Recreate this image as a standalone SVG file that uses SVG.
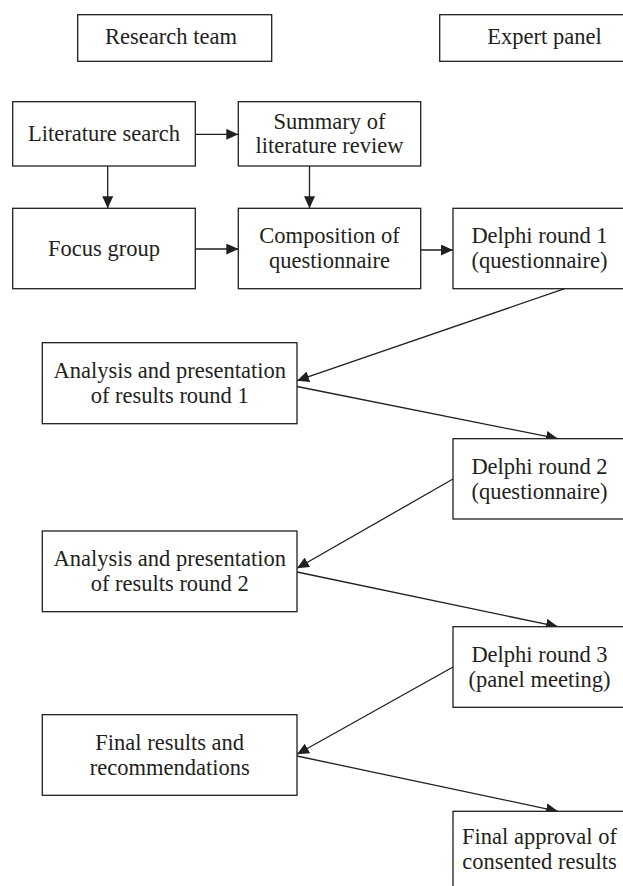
<svg xmlns="http://www.w3.org/2000/svg" width="623" height="886" viewBox="0 0 623 886">
<style>
.box{fill:#fff;stroke:#231f20;stroke-width:1.3}
.t{font-family:"Liberation Serif","Times New Roman",serif;font-size:22.5px;fill:#231f20;text-anchor:middle}
.c{fill:none;stroke:#231f20;stroke-width:1.3}
</style>
<defs>
<marker id="ah" viewBox="0 0 12 11" refX="12" refY="5.5" markerWidth="12" markerHeight="11" markerUnits="userSpaceOnUse" orient="auto">
<path d="M0,0 L12,5.5 L0,11 z" fill="#231f20"/>
</marker>
</defs>
<rect width="623" height="886" fill="#fff"/>
<g id="connectors">
<path class="c" d="M195.3,134.3 H238.3" marker-end="url(#ah)"/>
<path class="c" d="M107.7,166 V208.3" marker-end="url(#ah)"/>
<path class="c" d="M309.5,166 V208.3" marker-end="url(#ah)"/>
<path class="c" d="M195.3,249 H238.3" marker-end="url(#ah)"/>
<path class="c" d="M420.7,250 H453" marker-end="url(#ah)"/>
<path class="c" d="M564.7,288.7 L297,380.7" marker-end="url(#ah)"/>
<path class="c" d="M297,386.5 L558,438.7" marker-end="url(#ah)"/>
<path class="c" d="M453,479 L297,568.3" marker-end="url(#ah)"/>
<path class="c" d="M297,572 L558,626.7" marker-end="url(#ah)"/>
<path class="c" d="M453,667 L297,754.3" marker-end="url(#ah)"/>
<path class="c" d="M297,756 L558,811.3" marker-end="url(#ah)"/>
</g>
<g id="research-team">
<rect class="box" x="77.7" y="14.7" width="194" height="46.6"/>
<text class="t" x="171" y="44">Research team</text>
</g>
<g id="expert-panel">
<rect class="box" x="439.7" y="14.7" width="200" height="46.6"/>
<text class="t" x="544.5" y="44">Expert panel</text>
</g>
<g id="literature-search">
<rect class="box" x="12.7" y="101.7" width="182.6" height="64.3"/>
<text class="t" x="104" y="140.5">Literature search</text>
</g>
<g id="summary">
<rect class="box" x="238.3" y="101.7" width="182.4" height="64.3"/>
<text class="t" x="329.5" y="128.5">Summary of</text>
<text class="t" x="329.5" y="152.8">literature review</text>
</g>
<g id="focus-group">
<rect class="box" x="12.7" y="208.3" width="182.6" height="80.4"/>
<text class="t" x="104" y="256">Focus group</text>
</g>
<g id="composition">
<rect class="box" x="238.3" y="208.3" width="182.4" height="80.4"/>
<text class="t" x="329.5" y="243.3">Composition of</text>
<text class="t" x="329.5" y="268.3">questionnaire</text>
</g>
<g id="delphi-1">
<rect class="box" x="453" y="208.3" width="190" height="80.4"/>
<text class="t" x="539.5" y="243.3">Delphi round 1</text>
<text class="t" x="539.5" y="268.3">(questionnaire)</text>
</g>
<g id="analysis-1">
<rect class="box" x="42.3" y="342.7" width="254.7" height="81"/>
<text class="t" x="169.7" y="377.5">Analysis and presentation</text>
<text class="t" x="169.7" y="402.7">of results round 1</text>
</g>
<g id="delphi-2">
<rect class="box" x="453" y="438.7" width="190" height="80.3"/>
<text class="t" x="539.5" y="473.5">Delphi round 2</text>
<text class="t" x="539.5" y="498.5">(questionnaire)</text>
</g>
<g id="analysis-2">
<rect class="box" x="42.3" y="531" width="254.7" height="80.7"/>
<text class="t" x="169.7" y="565.8">Analysis and presentation</text>
<text class="t" x="169.7" y="590.8">of results round 2</text>
</g>
<g id="delphi-3">
<rect class="box" x="453" y="626.7" width="190" height="80.6"/>
<text class="t" x="539.5" y="661.5">Delphi round 3</text>
<text class="t" x="539.5" y="686.5">(panel meeting)</text>
</g>
<g id="final-results">
<rect class="box" x="42.3" y="714.7" width="254.7" height="80.6"/>
<text class="t" x="169.7" y="749.5">Final results and</text>
<text class="t" x="169.7" y="774.5">recommendations</text>
</g>
<g id="final-approval">
<rect class="box" x="453" y="811.3" width="190" height="90"/>
<text class="t" x="539.5" y="844">Final approval of</text>
<text class="t" x="539.5" y="869.3">consented results</text>
</g>
</svg>
